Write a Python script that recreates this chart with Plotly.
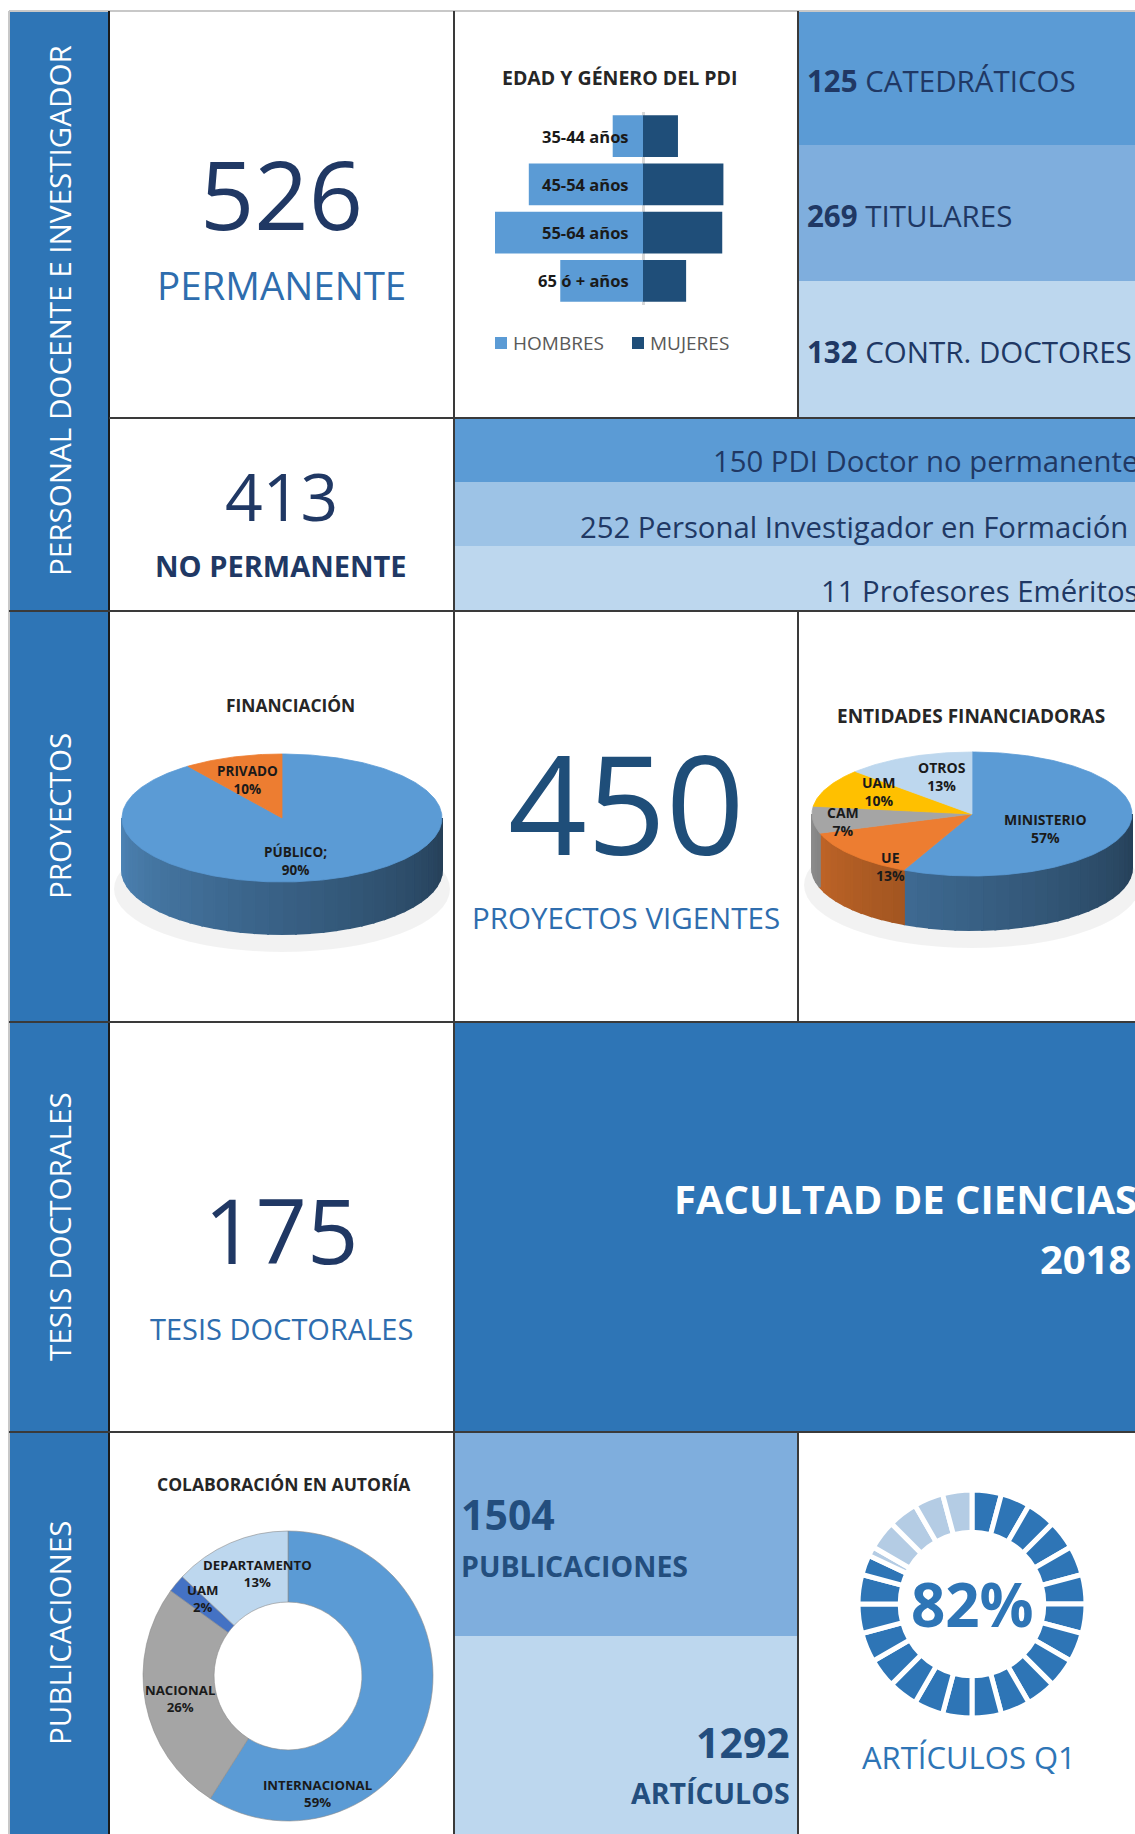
import math
import plotly.graph_objects as go

W, H = 1135, 1834

# ---- data ----
permanente = 526
no_permanente = 413
proyectos_vigentes = 450
tesis_doctorales = 175
publicaciones = 1504
articulos = 1292
articulos_q1 = 82

categorias_permanente = ["CATEDRÁTICOS", "TITULARES", "CONTR. DOCTORES"]
valores_permanente = [125, 269, 132]

categorias_no_permanente = ["PDI Doctor no permanente", "Personal Investigador en Formación", "Profesores Eméritos"]
valores_no_permanente = [150, 252, 11]

edades = ["35-44 años", "45-54 años", "55-64 años", "65 ó + años"]
hombres = [26, 98, 127, 71]
mujeres = [30, 69, 68, 37]

financiacion = ["PÚBLICO;", "PRIVADO"]
financiacion_pct = [90, 10]

entidades = ["MINISTERIO", "UE", "CAM", "UAM", "OTROS"]
entidades_pct = [57, 13, 7, 10, 13]

colaboracion = ["INTERNACIONAL", "NACIONAL", "UAM", "DEPARTAMENTO"]
colaboracion_pct = [59, 26, 2, 13]

secciones = ["PERSONAL DOCENTE E INVESTIGADOR", "PROYECTOS", "TESIS DOCTORALES", "PUBLICACIONES"]

# ---- styling ----
FONT = "Open Sans"
DARK = "#2E75B6"
MID = "#5B9BD5"
TIT = "#7FAEDD"
PALE = "#9DC3E6"
LIGHT = "#BDD7EE"
NAVY = "#203864"
NUM = "#1F4E79"
TXT_BLUE = "#2E6DAE"
TITLE = "#262626"
GRID = "#3a3a3a"


def px(x):
    return x / W


def py(y):
    return 1 - y / H


fig = go.Figure()
shapes = []
annots = []


def rect(x0, y0, x1, y1, color):
    shapes.append(dict(type="rect", xref="x", yref="y", x0=x0, y0=y0, x1=x1, y1=y1,
                       fillcolor=color, line=dict(width=0), layer="below"))


def line(x0, y0, x1, y1, color=GRID, width=2):
    shapes.append(dict(type="line", xref="x", yref="y", x0=x0, y0=y0, x1=x1, y1=y1,
                       line=dict(color=color, width=width), layer="below"))


def text(x, y, s, size, color=NAVY, bold=False, anchor="center", angle=0, xshift=0):
    annots.append(dict(xref="x", yref="y", x=x, y=y, text=f"<b>{s}</b>" if bold else s,
                       showarrow=False, xanchor=anchor, yanchor="middle", textangle=angle,
                       xshift=xshift, font=dict(family=FONT, size=size, color=color)))


# ---- cells ----
for y0, y1 in [(11, 611), (611, 1022), (1022, 1432), (1432, H)]:
    rect(9, y0, 109, y1, DARK)
for (y0, y1), c in zip([(11, 145), (145, 281), (281, 418)], [MID, TIT, LIGHT]):
    rect(798, y0, W, y1, c)
for (y0, y1), c in zip([(418, 482), (482, 546), (546, 611)], [MID, PALE, LIGHT]):
    rect(454, y0, W, y1, c)
rect(454, 1022, W, 1432, DARK)
rect(454, 1432, 798, 1636, TIT)
rect(454, 1636, 798, H, LIGHT)

# shadows under the 3D pies
for cx, cy in [(282, 884), (972, 880)]:
    shapes.append(dict(type="circle", xref="x", yref="y", x0=cx - 168, x1=cx + 168, y0=cy - 58, y1=cy + 68,
                       fillcolor="rgba(0,0,0,0.05)", line=dict(width=0), layer="below"))

# grid lines
line(9, 11, W, 11, "#c8c8c8", 2)
line(9, 11, 9, H, "#c8c8c8", 2)
line(109, 11, 109, H, "#1a1a1a", 2)
line(454, 11, 454, H)
line(798, 11, 798, 418)
line(798, 611, 798, 1022)
line(798, 1432, 798, H)
line(109, 418, W, 418)
for y in [611, 1022, 1432]:
    line(9, y, W, y)


# ---- 3D pies drawn on the pixel axis ----
def shade(hex_color, f):
    r, g, b = (int(hex_color[i:i + 2], 16) for i in (1, 3, 5))
    return f"rgb({int(r * f)},{int(g * f)},{int(b * f)})"


def pie3d(cx, cy, a, b, depth, values, colors):
    total = sum(values)
    bounds, acc = [], 0
    for v in values:
        bounds.append((acc / total * 360, (acc + v) / total * 360))
        acc += v

    def pt(phi, dy=0):
        r = math.radians(phi)
        return cx + a * math.sin(r), cy - b * math.cos(r) + dy

    # side walls (front half only)
    for (s, e), c in zip(bounds, colors):
        lo, hi = max(s, 90), min(e, 270)
        if lo >= hi:
            continue
        n = max(1, math.ceil((hi - lo) / 5))
        for k in range(n):
            p0 = lo + (hi - lo) * k / n
            p1 = lo + (hi - lo) * (k + 1) / n
            f = 0.85 - 0.45 * (270 - (p0 + p1) / 2) / 180
            arc = [pt(p0 + (p1 - p0) * j / 4) for j in range(5)]
            poly = arc + [(x, y + depth) for x, y in reversed(arc)] + [arc[0]]
            col = shade(c, f)
            fig.add_trace(go.Scatter(x=[p[0] for p in poly], y=[p[1] for p in poly], mode="lines",
                                     fill="toself", fillcolor=col, line=dict(color=col, width=2),
                                     hoverinfo="skip", showlegend=False, xaxis="x", yaxis="y"))
    # top faces
    for (s, e), c in zip(bounds, colors):
        n = max(2, math.ceil(e - s))
        poly = [(cx, cy)] + [pt(s + (e - s) * k / n) for k in range(n + 1)] + [(cx, cy)]
        fig.add_trace(go.Scatter(x=[p[0] for p in poly], y=[p[1] for p in poly], mode="lines",
                                 fill="toself", fillcolor=c, line=dict(color=c, width=0.8),
                                 hoverinfo="skip", showlegend=False, xaxis="x", yaxis="y"))


pie3d(282, 818, 160, 64, 52, financiacion_pct, [MID, "#ED7D31"])
pie3d(972, 814, 160, 62, 54, entidades_pct, [MID, "#ED7D31", "#A5A5A5", "#FFC000", LIGHT])

fin_label_pos = [(295, 861), (247, 780)]
for (x, y), lab, v in zip(fin_label_pos, financiacion, financiacion_pct):
    text(x, y, f"{lab}<br>{v}%", 13.5, "#1a1a1a", bold=True)

ent_label_pos = [(1045, 828), (890, 866), (843, 821), (878, 791), (942, 776)]
for (x, y), lab, v in zip(ent_label_pos, entidades, entidades_pct):
    text(x, y, f"{lab}<br>{v}%", 14, "#1a1a1a", bold=True)

# ---- population pyramid ----
fig.add_trace(go.Bar(y=edades, x=[-v for v in hombres], orientation="h", name="HOMBRES",
                     marker=dict(color=MID, line=dict(width=0)), xaxis="x2", yaxis="y2",
                     hoverinfo="skip", showlegend=False))
fig.add_trace(go.Bar(y=edades, x=mujeres, orientation="h", name="MUJERES",
                     marker=dict(color=NUM, line=dict(width=0)), xaxis="x2", yaxis="y2",
                     hoverinfo="skip", showlegend=False))
for e in edades:
    annots.append(dict(xref="x2", yref="y2", x=0, y=e, text=f"<b>{e}</b>", showarrow=False,
                       xanchor="right", xshift=-12, font=dict(family=FONT, size=16.5, color="#1a1a1a")))

# legend of the pyramid
for x, name, c in [(495, "HOMBRES", MID), (632, "MUJERES", NUM)]:
    shapes.append(dict(type="rect", xref="x", yref="y", x0=x, x1=x + 12, y0=337, y1=349,
                       fillcolor=c, line=dict(width=0)))
    text(x + 16, 343, name, 19, "#595959", anchor="left")

# ---- donut: colaboración en autoría ----
fig.add_trace(go.Pie(values=colaboracion_pct, labels=colaboracion, hole=0.51, sort=False,
                     direction="clockwise", rotation=0, textinfo="none", showlegend=False,
                     marker=dict(colors=[MID, "#A5A5A5", "#4472C4", LIGHT],
                                 line=dict(color="rgba(140,140,140,0.6)", width=1)),
                     domain=dict(x=[px(143), px(433)], y=[py(1821), py(1531)]),
                     hoverinfo="skip"))
col_label_pos = [(317, 1793), (180, 1698), (203, 1598), (257, 1573)]
for (x, y), lab, v in zip(col_label_pos, colaboracion, colaboracion_pct):
    text(x, y, f"{lab}<br>{v}%", 13.2, "#1a1a1a", bold=True)

# ---- segmented gauge: artículos Q1 ----
n_seg = 24
seg = 100 / n_seg
full = int(articulos_q1 // seg)
partial = articulos_q1 - full * seg
g_vals = [seg] * full + [partial, seg - partial] + [seg] * (n_seg - full - 1)
g_cols = [DARK] * (full + 1) + ["#B4CCE4"] * (n_seg - full)
fig.add_trace(go.Pie(values=g_vals, hole=0.63, sort=False, direction="clockwise", rotation=0,
                     textinfo="none", showlegend=False,
                     marker=dict(colors=g_cols, line=dict(color="white", width=5)),
                     domain=dict(x=[px(858), px(1086)], y=[py(1718), py(1490)]),
                     hoverinfo="skip"))

# ---- texts ----
for y, s in zip([311, 816, 1227, 1633], secciones):
    text(59, y, s, 29.6, "white", angle=-90)

text(281, 193, str(permanente), 95, NAVY)
text(281, 285, "PERMANENTE", 38.5, TXT_BLUE)
text(281, 495, str(no_permanente), 66, NAVY)
text(281, 565, "NO PERMANENTE", 29, NAVY, bold=True)
text(619, 77, "EDAD Y GÉNERO DEL PDI", 19.5, TITLE, bold=True)

for y, v, c in zip([80, 215, 351], valores_permanente, categorias_permanente):
    text(805, y, f"<b>{v}</b> {c}", 29.5, NAVY, anchor="left")

for y, v, c, xs in zip([461, 527, 591], valores_no_permanente, categorias_no_permanente, [5, -5, 5]):
    text(W, y, f"{v} {c}", 29.3, NAVY, anchor="right", xshift=xs)

text(290, 705, "FINANCIACIÓN", 17.4, TITLE, bold=True)
text(626, 801, str(proyectos_vigentes), 138, NUM)
text(626, 917, "PROYECTOS VIGENTES", 29.5, TXT_BLUE)
text(971, 716, "ENTIDADES FINANCIADORAS", 19, TITLE, bold=True)

text(281, 1229, str(tesis_doctorales), 90, NAVY)
text(281, 1328, "TESIS DOCTORALES", 29, TXT_BLUE)
text(W, 1198, "FACULTAD DE CIENCIAS", 40, "white", bold=True, anchor="right", xshift=4)
text(W, 1258, "2018", 40, "white", bold=True, anchor="right", xshift=-2)

text(284, 1484, "COLABORACIÓN EN AUTORÍA", 17.5, TITLE, bold=True)
text(459, 1514, str(publicaciones), 41, "#234E7E", bold=True, anchor="left")
text(459, 1566, "PUBLICACIONES", 28.5, "#234E7E", bold=True, anchor="left")
text(792, 1742, str(articulos), 41, "#234E7E", bold=True, anchor="right")
text(792, 1793, "ARTÍCULOS", 28.5, "#234E7E", bold=True, anchor="right")
text(972, 1604, f"{articulos_q1}%", 60, DARK, bold=True)
text(969, 1757, "ARTÍCULOS Q1", 31, DARK)

fig.update_layout(
    width=W, height=H,
    margin=dict(l=0, r=0, t=0, b=0),
    paper_bgcolor="white", plot_bgcolor="rgba(0,0,0,0)",
    font=dict(family=FONT),
    shapes=shapes, annotations=annots,
    showlegend=False,
    barmode="relative", bargap=0.13,
    xaxis=dict(range=[0, W], domain=[0, 1], visible=False, fixedrange=True),
    yaxis=dict(range=[H, 0], domain=[0, 1], visible=False, fixedrange=True),
    xaxis2=dict(domain=[px(483), px(803)], range=[-137.3, 137.3], anchor="y2",
                showticklabels=False, showgrid=False, showline=False, ticks="",
                zeroline=True, zerolinecolor="#d9d9d9", zerolinewidth=3, layer="above traces",
                fixedrange=True),
    yaxis2=dict(domain=[py(305), py(112)], anchor="x2", autorange="reversed",
                showticklabels=False, showgrid=False, showline=False, ticks="", fixedrange=True),
)

# drop the default page margin so the figure fills the window exactly
fig.write_html("out.html", config={"displayModeBar": False},
               post_script="document.body.style.margin='0';")
